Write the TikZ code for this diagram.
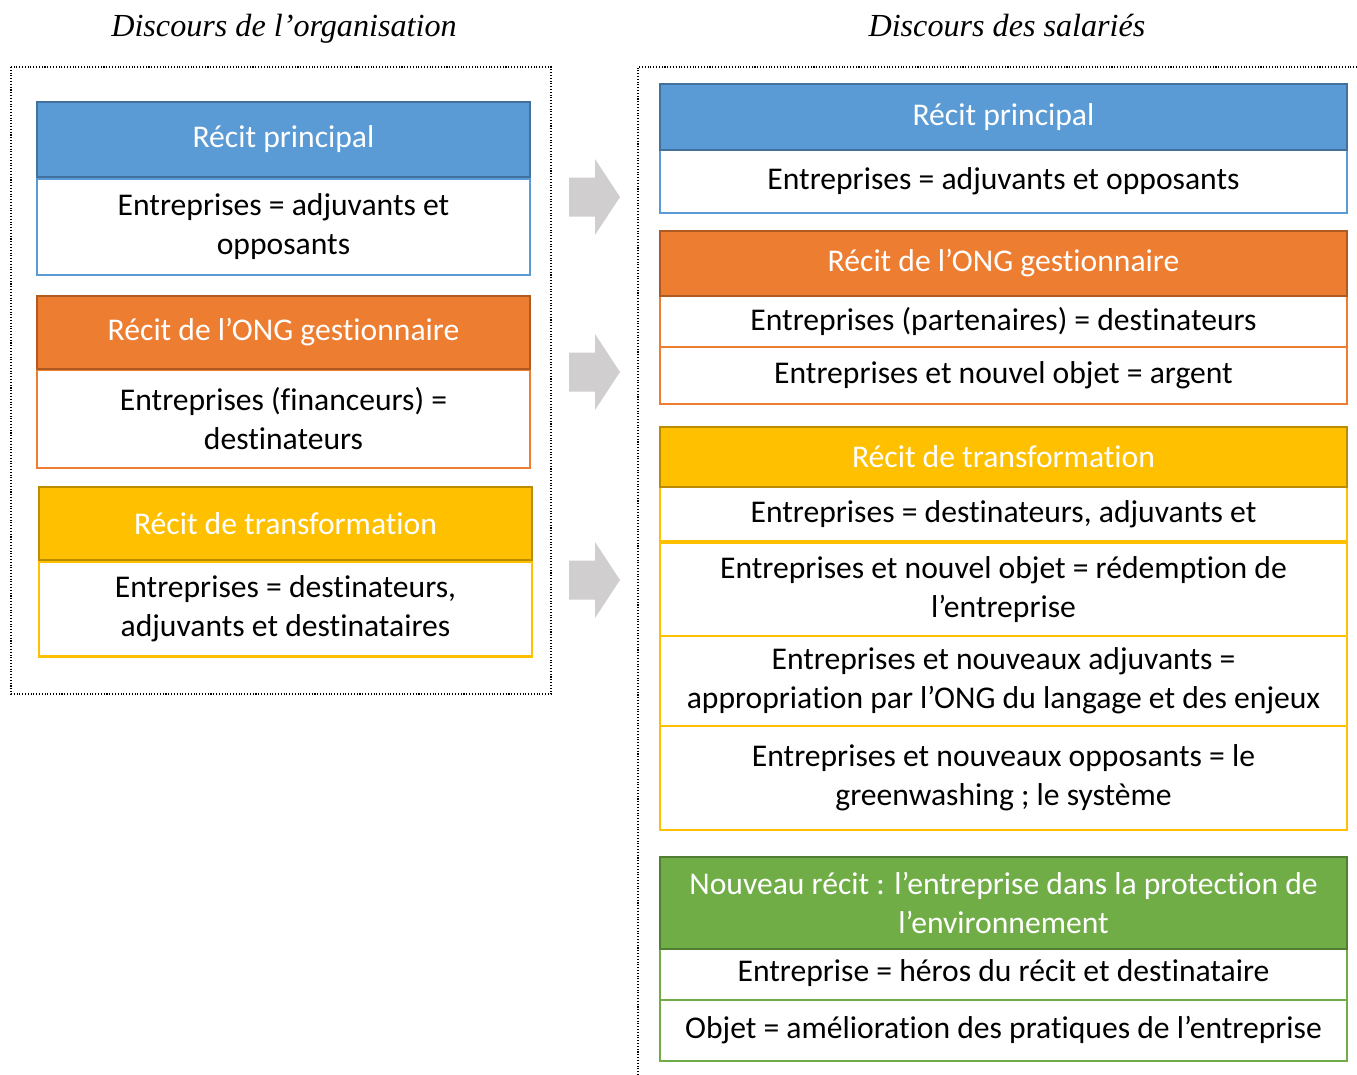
\documentclass[tikz,border=0pt]{standalone}
\usepackage{fontspec}
\setmainfont{Carlito}[Ligatures=CommonOff]
\newfontfamily\titlefont{Liberation Serif}
\definecolor{bluF}{HTML}{5B9BD5}
\definecolor{bluD}{HTML}{41719C}
\definecolor{orgF}{HTML}{ED7D31}
\definecolor{orgD}{HTML}{AE5A21}
\definecolor{ylwF}{HTML}{FFC000}
\definecolor{ylwD}{HTML}{BC8C00}
\definecolor{grnF}{HTML}{70AD47}
\definecolor{grnD}{HTML}{507E32}
\definecolor{arrowgray}{HTML}{D0CECE}
\begin{document}
\begin{tikzpicture}
        [x=0.02cm,y=-0.02cm,
         every node/.style={inner sep=0pt, outer sep=0pt, align=center, font=\fontsize{18}{22.2}\selectfont},
         head/.style={draw=#1D, fill=#1F, text=white, line width=1.3pt},
         row/.style={draw=#1F, fill=white, text=black, line width=1.3pt},
         lbox/.style={minimum width=9.86cm},
         rbox/.style={minimum width=13.74cm},
         frame/.style={densely dotted, line width=0.6pt},
         titre/.style={anchor=base, font=\titlefont\itshape\fontsize{18.3}{20}\selectfont}]
      \useasboundingbox (0,0) rectangle (1357,1075);

      % titles and frames
      \node[titre] (tleft) at (284,36) {Discours de l’organisation};
      \node[titre] (tright) at (1007,36) {Discours des salariés};
      \draw[frame] (11,67) rectangle (551,694);
      \draw[frame] (638,1075) -- (638,67) -- (1357,67);

      % left column
      \node[row=blu, lbox, minimum height=1.92cm] (lbluB) at (283.5,227) {Entreprises = adjuvants et\\opposants};
      \node[head=blu, lbox, minimum height=1.5cm] (lbluH) at (283.5,139.5) {Récit principal};
      \node[row=org, lbox, minimum height=1.96cm] (lorgB) at (283.5,419) {Entreprises (financeurs) =\\destinateurs};
      \node[head=org, lbox, minimum height=1.46cm] (lorgH) at (283.5,332.5) {Récit de l’ONG gestionnaire};
      \node[row=ylw, lbox, minimum height=1.9cm] (lylwB) at (285.5,609) {Entreprises = destinateurs,\\adjuvants et destinataires};
      \node[head=ylw, lbox, minimum height=1.46cm] (lylwH) at (285.5,523.5) {Récit de transformation};

      % right column
      \node[row=blu, rbox, minimum height=1.26cm] (rbluB) at (1003.5,181.5) {Entreprises = adjuvants et opposants};
      \node[head=blu, rbox, minimum height=1.32cm] (rbluH) at (1003.5,117) {Récit principal};
      \node[row=org, rbox, minimum height=1.02cm] (rorgA) at (1003.5,321.5) {Entreprises (partenaires) = destinateurs};
      \node[row=org, rbox, minimum height=1.14cm] (rorgB) at (1003.5,375.5) {Entreprises et nouvel objet = argent};
      \node[head=org, rbox, minimum height=1.3cm] (rorgH) at (1003.5,263.5) {Récit de l’ONG gestionnaire};
      \node[row=ylw, rbox, minimum height=1.08cm] (rylwA) at (1003.5,514) {Entreprises = destinateurs, adjuvants et};
      \node[row=ylw, rbox, minimum height=1.9cm] (rylwB) at (1003.5,590) {Entreprises et nouvel objet = rédemption de\\l’entreprise};
      \node[row=ylw, rbox, minimum height=1.8cm] (rylwC) at (1003.5,681) {Entreprises et nouveaux adjuvants =\\appropriation par l’ONG du langage et des enjeux};
      \node[row=ylw, rbox, minimum height=2.08cm] (rylwD) at (1003.5,778) {Entreprises et nouveaux opposants = le\\greenwashing ; le système};
      \node[head=ylw, rbox, minimum height=1.2cm] (rylwH) at (1003.5,457) {Récit de transformation};
      \node[row=grn, rbox, minimum height=1.06cm] (rgrnA) at (1003.5,973.5) {Entreprise = héros du récit et destinataire};
      \node[row=grn, rbox, minimum height=1.22cm] (rgrnB) at (1003.5,1030.5) {Objet = amélioration des pratiques de l’entreprise};
      \node[head=grn, rbox, minimum height=1.84cm] (rgrnH) at (1003.5,903) {Nouveau récit : l’entreprise dans la protection de\\l’environnement};

      % block arrows
      \foreach \yc in {197, 372, 580}
        \fill[arrowgray] (569,\yc-19.5) -- (595,\yc-19.5) -- (595,\yc-38) -- (620,\yc)
          -- (595,\yc+38) -- (595,\yc+19.5) -- (569,\yc+19.5) -- cycle;
    \end{tikzpicture}
\end{document}
